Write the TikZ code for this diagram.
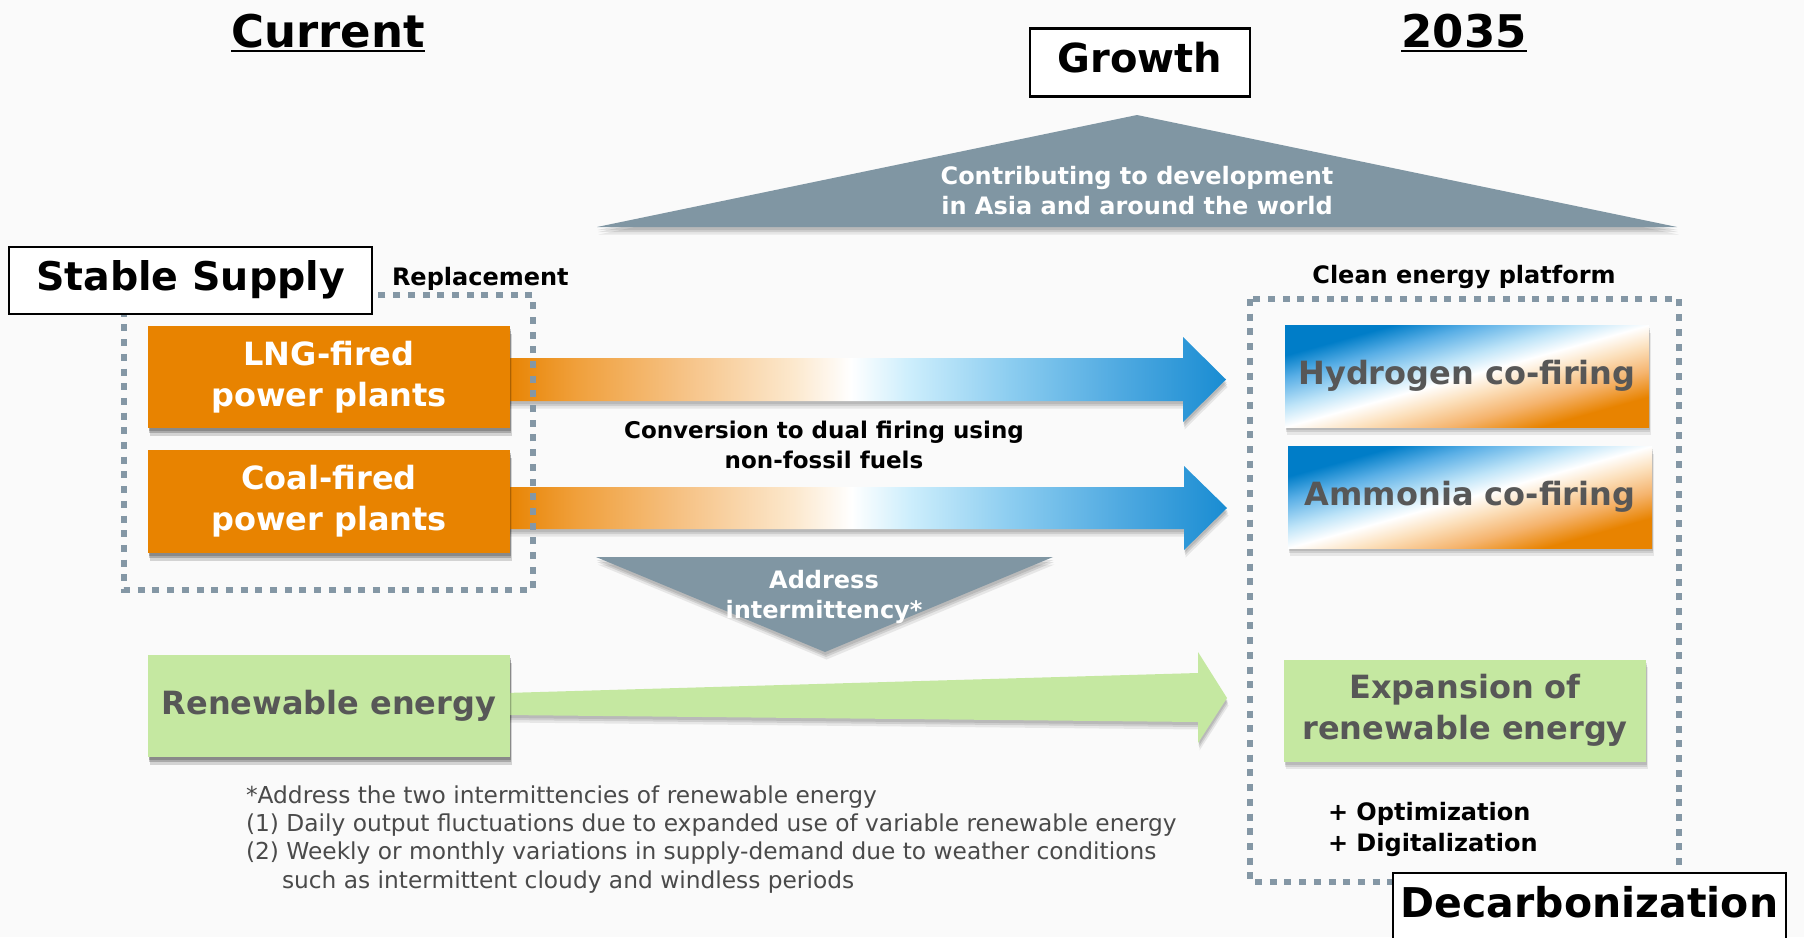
\documentclass[tikz,border=0pt]{standalone}
\usepackage{fontspec}
\setmainfont{DejaVu Sans}
\usetikzlibrary{calc,shadows}
\definecolor{bgc}{HTML}{FAFAFA}
\definecolor{ora}{HTML}{E88300}
\definecolor{grn}{HTML}{C5E8A1}
\definecolor{steel}{HTML}{8096A3}
\definecolor{txtg}{HTML}{575757}
\definecolor{dashc}{HTML}{8497A5}
\definecolor{notec}{HTML}{4A4A4A}
\definecolor{oa}{HTML}{F0A03C}
\definecolor{ob}{HTML}{F6C387}
\definecolor{oc}{HTML}{FCE8CD}
\definecolor{ba}{HTML}{CDEEFC}
\definecolor{bb}{HTML}{8CCDF0}
\definecolor{bc}{HTML}{50AAE1}
\definecolor{bd}{HTML}{198CD2}
\definecolor{da}{HTML}{007DC8}
\definecolor{db}{HTML}{5AAFE6}
\definecolor{dc}{HTML}{BEE4F8}
\definecolor{ea}{HTML}{FCE1BE}
\definecolor{eb}{HTML}{F5B46E}
\pgfdeclarehorizontalshading{orablu}{100bp}{color(0bp)=(ora); color(25bp)=(ora); color(30bp)=(oa); color(37.5bp)=(ob); color(45bp)=(oc); color(49bp)=(white); color(53bp)=(ba); color(60bp)=(bb); color(67.5bp)=(bc); color(75bp)=(bd); color(100bp)=(bd)}
\pgfdeclarehorizontalshading{diagbo}{100bp}{color(0bp)=(da); color(25bp)=(da); color(33bp)=(db); color(43bp)=(dc); color(50bp)=(white); color(57bp)=(ea); color(66bp)=(eb); color(75bp)=(ora); color(100bp)=(ora)}
\begin{document}
\begin{tikzpicture}[x=1pt,y=-1pt,
  every node/.style={inner sep=0pt, outer sep=0pt},
  titletext/.style={font=\bfseries\fontsize{45}{54}\selectfont, anchor=base},
  framebox/.style={draw=black, line width=2.5pt, fill=white},
  softshadow/.style={drop shadow={shadow xshift=0.5pt,shadow yshift=-3pt,opacity=.10,fill=black},
                     drop shadow={shadow xshift=1pt,shadow yshift=-5pt,opacity=.10,fill=black},
                     drop shadow={shadow xshift=1.5pt,shadow yshift=-7.5pt,opacity=.08,fill=black}},
  boxfont/.style={font=\bfseries\fontsize{32}{41}\selectfont},
  orabox/.style={fill=ora, text=white, minimum width=362pt, minimum height=102pt, boxfont, align=center, softshadow},
  grnbox/.style={fill=grn, text=txtg, minimum width=362pt, minimum height=102pt, boxfont, align=center, softshadow},
  gradbox/.style={fill=white, minimum width=364pt, minimum height=102pt, softshadow},
  gradshade/.style={shading=diagbo, shading angle=-45},
  dotbox/.style={draw=dashc, line width=6.5pt, dash pattern=on 7pt off 7.7pt},
  lbl/.style={font=\bfseries\fontsize{24}{30}\selectfont},
  whitelbl/.style={font=\bfseries\fontsize{24}{30}\selectfont, text=white, align=center, anchor=base}
]
\useasboundingbox (0,0) rectangle (1804,937);
\fill[bgc] (0,0) rectangle (1804,937);

% titles
\node[titletext] (cur) at (328,47) {Current};
\draw[line width=2.5pt] ([yshift=-4pt]cur.base west) -- ([yshift=-4pt]cur.base east);
\node[titletext] (yr) at (1464,47) {2035};
\draw[line width=2.5pt] ([yshift=-4pt]yr.base west) -- ([yshift=-4pt]yr.base east);

% growth triangle
\coordinate (gl) at (597,227);
\coordinate (gt) at (1137,115);
\coordinate (gr) at (1677,227);
\fill[steel, softshadow] (gl) -- (gt) -- (gr) -- cycle;
\node[whitelbl] (growtxt) at (1137,214) {Contributing to development\\in Asia and around the world};
\node[framebox, minimum width=220pt, minimum height=68pt, font=\bfseries\fontsize{40}{48}\selectfont, text height=30.4pt, text depth=9.6pt] (growth) at (1140,62.5) {Growth};

% address triangle corners
\coordinate (al) at (596,557);
\coordinate (ar) at (1053,557);
\coordinate (ab) at (825,652);

% boxes (left)
\node[orabox] (lng) at (329,377) {LNG-fired\\power plants};
\node[orabox, minimum height=103pt] (coal) at (329,501.5) {Coal-fired\\power plants};
\node[grnbox] (ren) at (329,706) {Renewable energy};

% arrows
\coordinate (lngtip) at (1226,379.5);
\coordinate (coaltip) at (1227,508);
\coordinate (rentip) at (1227,698);
\shade[shading=orablu, softshadow] let \p1=(lng.east), \p2=(lngtip) in
  (\x1-5pt,\y2+21.5pt) -- (\x2-43pt,\y2+21.5pt) -- (\x2-43pt,\y2+42.5pt) -- (\p2) --
  (\x2-43pt,\y2-42.5pt) -- (\x2-43pt,\y2-21.5pt) -- (\x1-5pt,\y2-21.5pt) -- cycle;
\shade[shading=orablu, softshadow] let \p1=(coal.east), \p2=(coaltip) in
  (\x1-5pt,\y2+21pt) -- (\x2-43pt,\y2+21pt) -- (\x2-43pt,\y2+42pt) -- (\p2) --
  (\x2-43pt,\y2-42pt) -- (\x2-43pt,\y2-21pt) -- (\x1-5pt,\y2-21pt) -- cycle;
\fill[grn, softshadow] let \p1=(ren.east), \p2=(rentip) in
  (\x1-5pt,\y2+5pt) -- (\x2-29pt,\y2+25pt) -- (\x2-29pt,\y2+46pt) -- (\p2) --
  (\x2-29pt,\y2-45pt) -- (\x2-29pt,\y2-24pt) -- (\x1-5pt,\y2-17pt) -- cycle;
\fill[steel, softshadow] (al) -- (ar) -- (ab) -- cycle;

% redraw left boxes over arrows
\node[orabox] (lng2) at (329,377) {LNG-fired\\power plants};
\node[orabox, minimum height=103pt] (coal2) at (329,501.5) {Coal-fired\\power plants};
\node[grnbox] (ren2) at (329,706) {Renewable energy};

% dotted groups
\draw[dotbox] (124,295) rectangle (533,590);
\draw[dotbox] (1250,299) rectangle (1679,882);

% right boxes
\node[gradbox] (hyd) at (1467,376) {};
\shade[gradshade, transform canvas={shift={(hyd.north west)}, xscale=3.64, yscale=1.02}] (0,0) rectangle (100,100);
\node[boxfont, text=txtg] (hydtxt) at (hyd.center) {Hydrogen co-firing};
\node[gradbox] (amm) at (1470,497) {};
\shade[gradshade, transform canvas={shift={(amm.north west)}, xscale=3.64, yscale=1.02}] (0,0) rectangle (100,100);
\node[boxfont, text=txtg] (ammtxt) at (amm.center) {Ammonia co-firing};
\node[grnbox] (exp) at (1465,710.5) {Expansion of\\renewable energy};

% labels
\node[whitelbl] (addr) at (824,618) {Address\\intermittency*};
\node[font=\bfseries\fontsize{23}{30}\selectfont, align=center, anchor=base] (conv) at (824,468) {Conversion to dual firing using\\non-fossil fuels};
\node[lbl, anchor=base west] (repl) at (392,285) {Replacement};
\node[lbl, anchor=base] (clean) at (1464,283) {Clean energy platform};
\node[align=left, anchor=base west, font=\bfseries\fontsize{24}{31}\selectfont] (opt) at (1328,851) {+ Optimization\\+ Digitalization};
\node[framebox, minimum width=363pt, minimum height=67pt, font=\bfseries\fontsize{39.5}{48}\selectfont, text height=30pt, text depth=9.5pt] (stable) at (190.5,280.5) {Stable Supply};
\node[framebox, minimum width=393pt, minimum height=67pt, font=\bfseries\fontsize{41}{48}\selectfont, text height=31.2pt, text depth=9.8pt] (decarb) at (1589.5,906.5) {Decarbonization};

% footnote
\node[anchor=base west, align=left, text=notec, font=\fontsize{23.3}{28.3}\selectfont] (note) at (246,888)
  {*Address the two intermittencies of renewable energy\\
   (1) Daily output fluctuations due to expanded use of variable renewable energy\\
   (2) Weekly or monthly variations in supply-demand due to weather conditions\\
   \hspace*{36pt}such as intermittent cloudy and windless periods};
\end{tikzpicture}
\end{document}
